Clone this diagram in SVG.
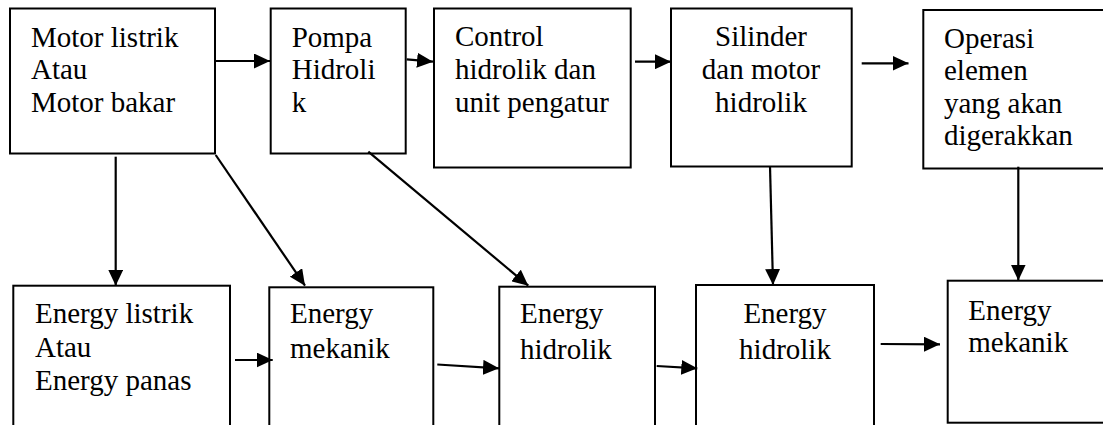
<svg xmlns="http://www.w3.org/2000/svg" width="1103" height="425" viewBox="0 0 1103 425">
  <defs>
    <marker id="ah" markerUnits="userSpaceOnUse" markerWidth="16" markerHeight="15" refX="16" refY="7.5" orient="auto">
      <path d="M0,0 L16,7.5 L0,15 Z" fill="#000"/>
    </marker>
  </defs>
  <rect width="1103" height="425" fill="#fff"/>

  <g id="n-motor">
    <rect x="10" y="8.5" width="205" height="145" fill="#fff" stroke="#000" stroke-width="2"/>
    <text x="31" y="46.5" font-family="Times New Roman, Liberation Serif, serif" font-size="29">Motor listrik</text>
    <text x="31" y="79" font-family="Times New Roman, Liberation Serif, serif" font-size="29">Atau</text>
    <text x="31" y="111.5" font-family="Times New Roman, Liberation Serif, serif" font-size="29">Motor bakar</text>
  </g>
  <g id="n-pompa">
    <rect x="270.7" y="8.5" width="135" height="145" fill="#fff" stroke="#000" stroke-width="2"/>
    <text x="291.7" y="46.5" font-family="Times New Roman, Liberation Serif, serif" font-size="29">Pompa</text>
    <text x="291.7" y="79" font-family="Times New Roman, Liberation Serif, serif" font-size="29">Hidroli</text>
    <text x="291.7" y="111.5" font-family="Times New Roman, Liberation Serif, serif" font-size="29">k</text>
  </g>
  <g id="n-control">
    <rect x="434" y="8.5" width="196.7" height="159" fill="#fff" stroke="#000" stroke-width="2"/>
    <text x="455" y="46" font-family="Times New Roman, Liberation Serif, serif" font-size="29">Control</text>
    <text x="455" y="79" font-family="Times New Roman, Liberation Serif, serif" font-size="29">hidrolik dan</text>
    <text x="455" y="111.5" font-family="Times New Roman, Liberation Serif, serif" font-size="29">unit pengatur</text>
  </g>
  <g id="n-silinder">
    <rect x="671" y="8.5" width="180.7" height="158" fill="#fff" stroke="#000" stroke-width="2"/>
    <text x="761" y="46" text-anchor="middle" font-family="Times New Roman, Liberation Serif, serif" font-size="29">Silinder</text>
    <text x="761" y="79" text-anchor="middle" font-family="Times New Roman, Liberation Serif, serif" font-size="29">dan motor</text>
    <text x="761" y="111.5" text-anchor="middle" font-family="Times New Roman, Liberation Serif, serif" font-size="29">hidrolik</text>
  </g>
  <g id="n-operasi">
    <rect x="923.3" y="10" width="200" height="158.5" fill="#fff" stroke="#000" stroke-width="2"/>
    <text x="944" y="47.5" font-family="Times New Roman, Liberation Serif, serif" font-size="29">Operasi</text>
    <text x="944" y="80" font-family="Times New Roman, Liberation Serif, serif" font-size="29">elemen</text>
    <text x="944" y="112.5" font-family="Times New Roman, Liberation Serif, serif" font-size="29">yang akan</text>
    <text x="944" y="145" font-family="Times New Roman, Liberation Serif, serif" font-size="29">digerakkan</text>
  </g>

  <g id="n-energy-listrik">
    <rect x="13.3" y="285.7" width="216.7" height="200" fill="#fff" stroke="#000" stroke-width="2"/>
    <text x="35" y="323.3" font-family="Times New Roman, Liberation Serif, serif" font-size="29">Energy listrik</text>
    <text x="35" y="356.7" font-family="Times New Roman, Liberation Serif, serif" font-size="29">Atau</text>
    <text x="35" y="390" font-family="Times New Roman, Liberation Serif, serif" font-size="29">Energy panas</text>
  </g>
  <g id="n-energy-mekanik-1">
    <rect x="269.3" y="287.3" width="164" height="200" fill="#fff" stroke="#000" stroke-width="2"/>
    <text x="290" y="323.3" font-family="Times New Roman, Liberation Serif, serif" font-size="29">Energy</text>
    <text x="290" y="358" font-family="Times New Roman, Liberation Serif, serif" font-size="29">mekanik</text>
  </g>
  <g id="n-energy-hidrolik-1">
    <rect x="499.3" y="286.7" width="155.7" height="200" fill="#fff" stroke="#000" stroke-width="2"/>
    <text x="520" y="323.3" font-family="Times New Roman, Liberation Serif, serif" font-size="29">Energy</text>
    <text x="520" y="359" font-family="Times New Roman, Liberation Serif, serif" font-size="29">hidrolik</text>
  </g>
  <g id="n-energy-hidrolik-2">
    <rect x="696" y="285" width="178" height="200" fill="#fff" stroke="#000" stroke-width="2"/>
    <text x="785" y="323.3" text-anchor="middle" font-family="Times New Roman, Liberation Serif, serif" font-size="29">Energy</text>
    <text x="785" y="358.5" text-anchor="middle" font-family="Times New Roman, Liberation Serif, serif" font-size="29">hidrolik</text>
  </g>
  <g id="n-energy-mekanik-2">
    <rect x="947.7" y="280.7" width="200" height="142" fill="#fff" stroke="#000" stroke-width="2"/>
    <text x="968.3" y="320" font-family="Times New Roman, Liberation Serif, serif" font-size="29">Energy</text>
    <text x="968.3" y="352" font-family="Times New Roman, Liberation Serif, serif" font-size="29">mekanik</text>
  </g>

  <g id="connectors" stroke="#000" stroke-width="2.2" fill="none" marker-end="url(#ah)">
    <line x1="216" y1="61" x2="270" y2="61"/>
    <line x1="406.7" y1="59.3" x2="433" y2="61.7"/>
    <line x1="635" y1="61.7" x2="671" y2="61.7"/>
    <line x1="861.7" y1="63.3" x2="908.5" y2="63.3"/>
    <line x1="115.7" y1="156.7" x2="115.7" y2="285.7"/>
    <line x1="215.7" y1="155" x2="305" y2="285.7"/>
    <line x1="368.3" y1="151.7" x2="528.3" y2="285.7"/>
    <line x1="770" y1="166" x2="773" y2="285"/>
    <line x1="1018.3" y1="166.7" x2="1018.3" y2="280.5"/>
    <line x1="235" y1="360" x2="272.7" y2="360"/>
    <line x1="437.3" y1="364.5" x2="499" y2="368.3"/>
    <line x1="656.7" y1="366" x2="697.3" y2="368.3"/>
    <line x1="880.7" y1="344" x2="940" y2="344.3"/>
  </g>
</svg>
